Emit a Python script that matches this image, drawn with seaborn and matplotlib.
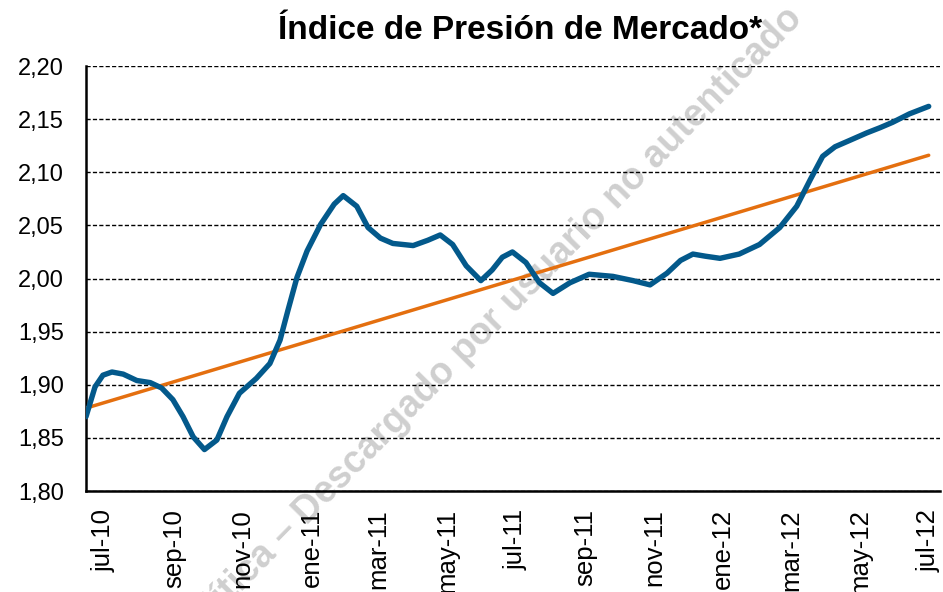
import pandas as pd
import numpy as np
import matplotlib
matplotlib.use("Agg")
import matplotlib.pyplot as plt
import matplotlib.transforms as mtransforms
import seaborn as sns

# Índice de Presión de Mercado
fechas = [
    "2010-07-01", "2010-07-09", "2010-07-16", "2010-07-24", "2010-08-03", "2010-08-15",
    "2010-08-27", "2010-09-06", "2010-09-16", "2010-09-25", "2010-10-04", "2010-10-14",
    "2010-10-25", "2010-11-03", "2010-11-14", "2010-11-29", "2010-12-11", "2010-12-20",
    "2010-12-27", "2011-01-04", "2011-01-13", "2011-01-25", "2011-02-06", "2011-02-14",
    "2011-02-26", "2011-03-08", "2011-03-19", "2011-03-30", "2011-04-17", "2011-04-30",
    "2011-05-11", "2011-05-22", "2011-06-03", "2011-06-16", "2011-06-26", "2011-07-05",
    "2011-07-14", "2011-07-26", "2011-08-07", "2011-08-19", "2011-09-03", "2011-09-20",
    "2011-10-11", "2011-10-29", "2011-11-13", "2011-11-28", "2011-12-10", "2011-12-21",
    "2012-01-01", "2012-01-14", "2012-01-31", "2012-02-18", "2012-03-07", "2012-03-22",
    "2012-04-03", "2012-04-14", "2012-04-25", "2012-05-08", "2012-05-23", "2012-06-04",
    "2012-06-15", "2012-06-30", "2012-07-17",
]
ipm = [
    1.870, 1.898, 1.909, 1.912, 1.910, 1.904,
    1.902, 1.897, 1.886, 1.870, 1.851, 1.839,
    1.848, 1.870, 1.892, 1.906, 1.920, 1.942,
    1.970, 2.001, 2.026, 2.051, 2.070, 2.078,
    2.068, 2.048, 2.038, 2.033, 2.031, 2.036,
    2.041, 2.032, 2.012, 1.998, 2.008, 2.020,
    2.025, 2.015, 1.996, 1.986, 1.996, 2.004,
    2.002, 1.998, 1.994, 2.005, 2.017, 2.023,
    2.021, 2.019, 2.023, 2.032, 2.048, 2.068,
    2.093, 2.115, 2.124, 2.130, 2.137, 2.142,
    2.147, 2.155, 2.162,
]

# tendencia lineal
tend_fechas = ["2010-07-01", "2012-07-17"]
tend_valores = [1.878, 2.116]

tick_fechas = ["2010-07-01", "2010-09-01", "2010-11-01", "2011-01-01", "2011-03-01",
               "2011-05-01", "2011-07-01", "2011-09-01", "2011-11-01", "2012-01-01",
               "2012-03-01", "2012-05-01", "2012-07-01"]
tick_labels = ["jul-10", "sep-10", "nov-10", "ene-11", "mar-11", "may-11", "jul-11",
               "sep-11", "nov-11", "ene-12", "mar-12", "may-12", "jul-12"]
y_ticks = [1.80, 1.85, 1.90, 1.95, 2.00, 2.05, 2.10, 2.15, 2.20]

sns.set_style("white")
plt.rcParams["font.family"] = ["Liberation Sans", "DejaVu Sans"]
plt.rcParams["text.color"] = "black"

df = pd.DataFrame({"fecha": pd.to_datetime(fechas), "ipm": ipm})
tend = pd.DataFrame({"fecha": pd.to_datetime(tend_fechas), "valor": tend_valores})

fig = plt.figure(figsize=(9.43, 5.92), dpi=100)
ax = fig.add_axes([0.0912, 0.1706, 0.9056, 0.7179])
ax.set_facecolor("none")

for v in y_ticks:
    ax.axhline(v, color="black", lw=1.0, ls=(0, (3, 1.6)), zorder=1)

sns.lineplot(data=tend, x="fecha", y="valor", ax=ax, color="#e46f0f", lw=2.5, zorder=3)
sns.lineplot(data=df, x="fecha", y="ipm", ax=ax, color="#03598b", lw=3.9, zorder=4,
             solid_joinstyle="round", solid_capstyle="round")

ax.set_xlim(pd.Timestamp("2010-07-01"), pd.Timestamp("2012-07-27"))
ax.set_ylim(1.80, 2.20)
ax.set_yticks(y_ticks)
ax.set_yticklabels([f"{v:.2f}".replace(".", ",") for v in y_ticks], fontsize=17)
ax.set_xticks(pd.to_datetime(tick_fechas))
ax.set_xticklabels(tick_labels, rotation=90, fontsize=18.5)
ax.set_xlabel("")
ax.set_ylabel("")

ax.tick_params(axis="y", direction="out", length=6, width=1.2, pad=10, colors="black")
ax.tick_params(axis="x", direction="out", length=7, width=1.2, pad=6, colors="black")
# etiquetas de fecha desplazadas a la derecha de la marca, como en el original
shift = mtransforms.ScaledTranslation(0.18, 0, fig.dpi_scale_trans)
for lab in ax.get_xticklabels():
    lab.set_transform(lab.get_transform() + shift)

for s in ["top", "right"]:
    ax.spines[s].set_visible(False)
for s in ["left", "bottom"]:
    ax.spines[s].set_color("black")
    ax.spines[s].set_linewidth(1.8)

fig.text(0.552, 0.948, "Índice de Presión de Mercado*", ha="center", va="center",
         fontsize=24, fontweight="bold", color="black")

# marca de agua
fig.text(184 / 943, 1 - 650 / 592, "Política – Descargado por usuario no autenticado",
         fontsize=27, fontweight="bold", color="#cfcfcf", rotation=45.5,
         rotation_mode="anchor", ha="left", va="baseline", zorder=-1)

fig.savefig("out.png", dpi=100)
